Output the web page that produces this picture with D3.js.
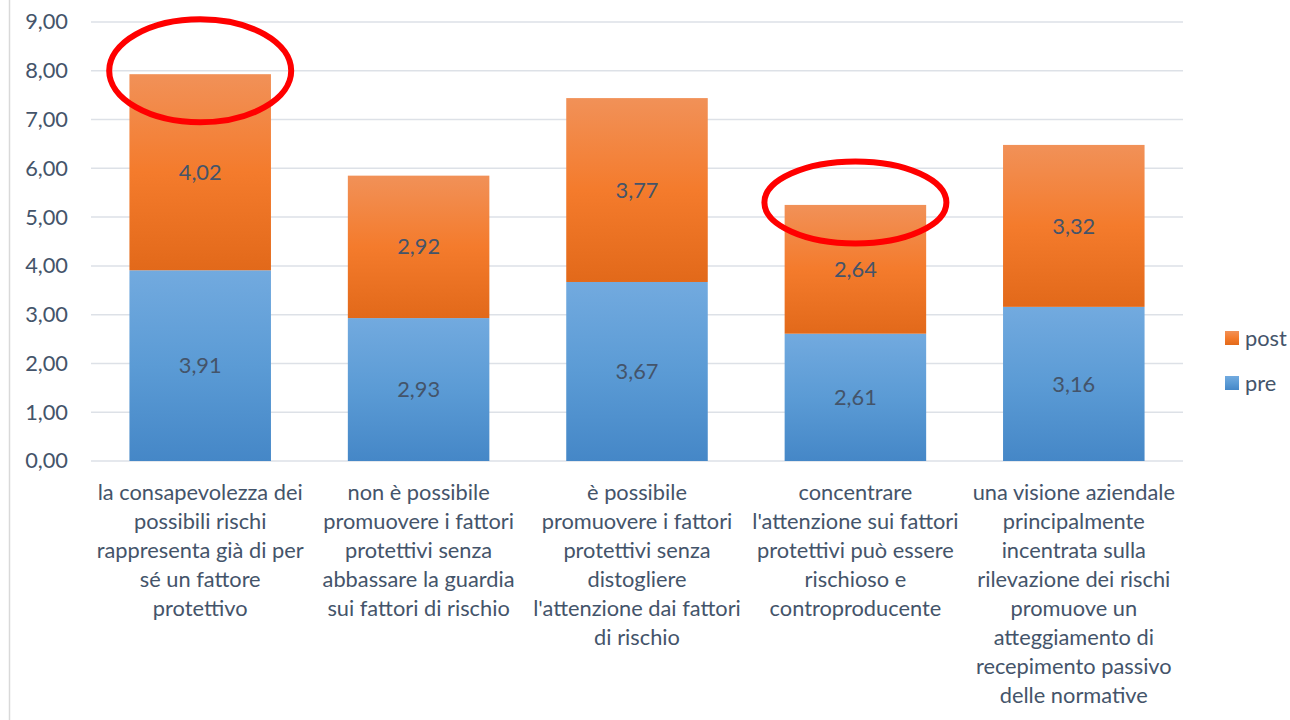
<!DOCTYPE html>
<html>
<head>
<meta charset="utf-8">
<script src="https://cdn.jsdelivr.net/npm/d3@7"></script>
<style>
  body { margin: 0; background: #fff; }
  svg { display: block; }
</style>
</head>
<body>
<div class="chart"></div>
<script>
// categories (wrapped as in the picture)
const categories = [
    ["la consapevolezza dei", "possibili rischi", "rappresenta già di per", "sé un fattore", "protettivo"],
    ["non è possibile", "promuovere i fattori", "protettivi senza", "abbassare la guardia", "sui fattori di rischio"],
    ["è possibile", "promuovere i fattori", "protettivi senza", "distogliere", "l'attenzione dai fattori", "di rischio"],
    ["concentrare", "l'attenzione sui fattori", "protettivi può essere", "rischioso e", "controproducente"],
    ["una visione aziendale", "principalmente", "incentrata sulla", "rilevazione dei rischi", "promuove un", "atteggiamento di", "recepimento passivo", "delle normative"]
];
const preValues = [3.91, 2.93, 3.67, 2.61, 3.16];
const postValues = [4.02, 2.92, 3.77, 2.64, 3.32];
const seriesNames = ["pre", "post"];
const yTicks = [0, 1, 2, 3, 4, 5, 6, 7, 8, 9];
// red ellipses drawn on the chart: category index and centre value
const highlightIndex = [0, 3];
const highlightCenter = [8.0, 5.3];

const width = 1290, height = 720;
const margin = {top: 22, right: 107, bottom: 259, left: 91};
const innerW = width - margin.left - margin.right;
const innerH = height - margin.top - margin.bottom;
const textColor = "#44546A";
const font = "Lato, 'Open Sans', sans-serif";
const fontSize = "21.8px";

let svg = d3.select('.chart')
    .append("svg")
        .attr("width", width)
        .attr("height", height);

// gradients
let defs = svg.append("defs");
function addGradient(id, stops) {
    let g = defs.append("linearGradient")
        .attr("id", id)
        .attr("x1", 0).attr("y1", 0).attr("x2", 0).attr("y2", 1);
    stops.forEach(function (s) {
        g.append("stop").attr("offset", s[0]).attr("stop-color", s[1]);
    });
}
addGradient("gradPre", [["0%", "#72AADF"], ["50%", "#5B9BD5"], ["100%", "#4587C7"]]);
addGradient("gradPost", [["0%", "#F19158"], ["50%", "#F47B2C"], ["100%", "#E2691A"]]);

// left border line of the chart area
svg.append("line")
    .attr("x1", 9.5).attr("x2", 9.5)
    .attr("y1", 0).attr("y2", height)
    .attr("stroke", "#D9D9D9")
    .attr("stroke-width", 1.5);

let g = svg.append("g")
    .attr("transform", "translate(" + margin.left + "," + margin.top + ")");

const x = d3.scaleBand()
    .domain(d3.range(categories.length))
    .range([0, innerW])
    .paddingInner(0.352)
    .paddingOuter(0.176);

const y = d3.scaleLinear()
    .domain([0, 9])
    .range([innerH, 0]);

// gridlines
g.append("g")
    .selectAll("line")
    .data(yTicks)
    .join("line")
        .attr("x1", 0)
        .attr("x2", innerW)
        .attr("y1", function (d) { return y(d); })
        .attr("y2", function (d) { return y(d); })
        .attr("stroke", "#DDE1E7")
        .attr("stroke-width", 1.5);

// y axis labels
const yAxis = g.append("g")
    .call(d3.axisLeft(y).tickValues(yTicks).tickSize(0).tickPadding(23)
        .tickFormat(function (d) { return d3.format(".2f")(d).replace(".", ","); }));
yAxis.select(".domain").remove();
yAxis.selectAll("text")
    .attr("fill", textColor)
    .style("font-family", font)
    .style("font-size", fontSize);

// stacked data
let rows = categories.map(function (c, i) {
    return {i: i, pre: preValues[i], post: postValues[i]};
});
const stack = d3.stack().keys(seriesNames);
const stacked = stack(rows);
const fills = {pre: "url(#gradPre)", post: "url(#gradPost)"};

let layers = g.selectAll(".layer")
    .data(stacked)
    .join("g")
        .attr("class", "layer")
        .attr("fill", function (d) { return fills[d.key]; });

layers.selectAll("rect")
    .data(function (d) { return d; })
    .join("rect")
        .attr("x", function (d) { return x(d.data.i); })
        .attr("y", function (d) { return y(d[1]); })
        .attr("width", x.bandwidth())
        .attr("height", function (d) { return y(d[0]) - y(d[1]); });

// value labels
layers.selectAll("text")
    .data(function (d) { return d; })
    .join("text")
        .attr("x", function (d) { return x(d.data.i) + x.bandwidth() / 2; })
        .attr("y", function (d) { return y((d[0] + d[1]) / 2); })
        .attr("dy", "0.35em")
        .attr("text-anchor", "middle")
        .attr("fill", textColor)
        .style("font-family", font)
        .style("font-size", fontSize)
        .text(function (d) { return d3.format(".2f")(d[1] - d[0]).replace(".", ","); });

// category labels
let catLabels = g.append("g")
    .selectAll("text")
    .data(categories)
    .join("text")
        .attr("x", function (d, i) { return x(i) + x.bandwidth() / 2; })
        .attr("y", innerH + 39)
        .attr("text-anchor", "middle")
        .attr("fill", textColor)
        .style("font-family", font)
        .style("font-size", fontSize);
catLabels.selectAll("tspan")
    .data(function (d) { return d; })
    .join("tspan")
        .attr("x", function () { return this.parentNode.getAttribute("x"); })
        .attr("dy", function (d, k) { return k === 0 ? 0 : 29; })
        .text(function (d) { return d; });

// red ellipses
g.append("g")
    .selectAll("ellipse")
    .data(highlightIndex)
    .join("ellipse")
        .attr("cx", function (d) { return x(d) + x.bandwidth() / 2; })
        .attr("cy", function (d, k) { return y(highlightCenter[k]); })
        .attr("rx", 91)
        .attr("ry", function (d, k) { return k === 0 ? 51.5 : 41; })
        .attr("fill", "none")
        .attr("stroke", "#FF0000")
        .attr("stroke-width", 6);

// legend
const legendItems = ["post", "pre"];
let legend = svg.append("g")
    .selectAll("g")
    .data(legendItems)
    .join("g")
        .attr("transform", function (d, i) { return "translate(1225," + (331 + i * 45) + ")"; });
legend.append("rect")
    .attr("width", 14)
    .attr("height", 14)
    .attr("fill", function (d) { return fills[d]; });
legend.append("text")
    .attr("x", 20)
    .attr("y", 7)
    .attr("dy", "0.35em")
    .attr("fill", textColor)
    .style("font-family", font)
    .style("font-size", fontSize)
    .text(function (d) { return d; });
</script>
</body>
</html>
